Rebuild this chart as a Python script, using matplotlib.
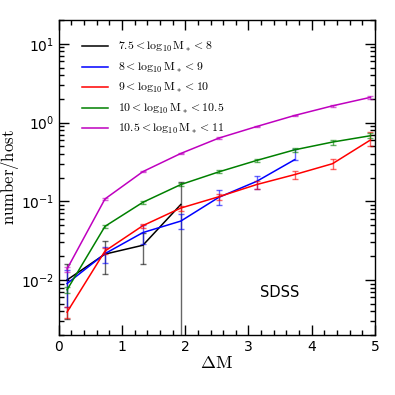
import matplotlib
matplotlib.use('Agg')
import matplotlib.pyplot as plt
from matplotlib.ticker import MultipleLocator, LogLocator, NullFormatter

plt.rcParams['mathtext.fontset'] = 'cm'

dm = [0.13, 0.73, 1.33, 1.93, 2.53, 3.13, 3.73, 4.33, 4.93]

# 7.5 < logM < 8
black_y = [0.0100, 0.0213, 0.0276, 0.091]
black_lo = [0.0068, 0.0093, 0.0118, 0.0905]
black_hi = [0.0060, 0.0097, 0.0124, 0.087]

# 8 < logM < 9
blue_y = [0.0090, 0.0216, 0.040, 0.056, 0.112, 0.179, 0.337]
blue_lo = [0.0045, 0.0054, 0.011, 0.011, 0.022, 0.034, 0.0]
blue_hi = [0.0045, 0.0050, 0.010, 0.012, 0.025, 0.032, 0.128]

# 9 < logM < 10
red_y = [0.0039, 0.0233, 0.049, 0.082, 0.114, 0.163, 0.218, 0.30, 0.60]
red_lo = [0.0006, 0.002, 0.003, 0.006, 0.010, 0.020, 0.025, 0.04, 0.10]
red_hi = [0.0006, 0.002, 0.003, 0.006, 0.010, 0.020, 0.025, 0.04, 0.15]

# 10 < logM < 10.5
green_y = [0.0075, 0.048, 0.097, 0.163, 0.236, 0.33, 0.45, 0.565, 0.68]
green_err = [0.0007, 0.002, 0.004, 0.008, 0.010, 0.015, 0.030, 0.040, 0.05]

# 10.5 < logM < 11
mag_y = [0.0138, 0.107, 0.238, 0.405, 0.634, 0.89, 1.23, 1.63, 2.09]
mag_err = [0.0010, 0.003, 0.006, 0.010, 0.015, 0.02, 0.03, 0.04, 0.10]

labels = [r'$\rm 7.5<\log_{10}M_*<8$',
          r'$\rm 8<\log_{10}M_*<9$',
          r'$\rm 9<\log_{10}M_*<10$',
          r'$\rm 10<\log_{10}M_*<10.5$',
          r'$\rm 10.5<\log_{10}M_*<11$']

fig = plt.figure(figsize=(3.95, 3.95), dpi=100)
ax = fig.add_axes([0.149, 0.152, 0.800, 0.797])

series = [
    (dm[:4], black_y, [black_lo, black_hi], 'black'),
    (dm[:7], blue_y, [blue_lo, blue_hi], 'blue'),
    (dm, red_y, [red_lo, red_hi], 'red'),
    (dm, green_y, green_err, 'green'),
    (dm, mag_y, mag_err, 'm'),
]

for (x, y, err, c), lab in zip(series, labels):
    ax.plot(x, y, color=c, lw=1.1, label=lab)
    eb = ax.errorbar(x, y, yerr=err, fmt='none', ecolor=c, elinewidth=1.0,
                     capsize=2.5, capthick=1.0)
    for art in eb[1]:
        art.set_alpha(0.6)
    for art in eb[2]:
        art.set_alpha(0.6)

ax.set_yscale('log')
ax.set_xlim(0, 5)
ax.set_ylim(0.002, 20)

ax.xaxis.set_major_locator(MultipleLocator(1))
ax.xaxis.set_minor_locator(MultipleLocator(0.2))
ax.yaxis.set_major_locator(LogLocator(base=10, numticks=10))
ax.yaxis.set_minor_locator(LogLocator(base=10, subs=range(2, 10), numticks=20))
ax.yaxis.set_minor_formatter(NullFormatter())

ax.tick_params(which='both', direction='in', top=True, right=True, labelsize=10)
ax.tick_params(which='major', length=7, width=1)
ax.tick_params(which='minor', length=3.5, width=1)
for s in ax.spines.values():
    s.set_linewidth(1.0)

ax.set_xlabel(r'$\Delta\rm M$', fontsize=13, labelpad=0)
ax.set_ylabel(r'$\rm number/host$', fontsize=12)
ax.yaxis.set_label_coords(-0.12, 0.5)

ax.text(3.5, 0.0070, 'SDSS', fontsize=10.5, ha='center', va='center')

ax.legend(loc='upper left', fontsize=8.5, frameon=False, handlelength=2.2,
          labelspacing=0.55, bbox_to_anchor=(0.04, 0.97))

fig.savefig('out.png', dpi=100)
